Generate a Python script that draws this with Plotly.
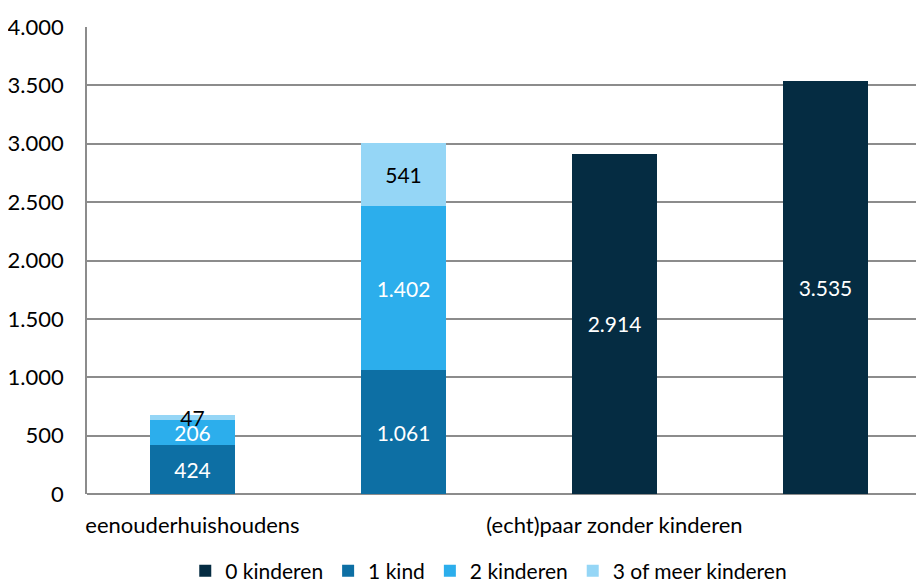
import plotly.graph_objects as go

# ------------data
x_pos = [0, 1, 2, 3]
tick_labels = ["eenouderhuishoudens", "", "(echt)paar zonder kinderen", ""]
kinderen_0 = [None, None, 2914, 3535]
kind_1 = [424, 1061, None, None]
kinderen_2 = [206, 1402, None, None]
kinderen_3plus = [47, 541, None, None]

series = [
    ("0 kinderen", kinderen_0, "#052c42", "white"),
    ("1 kind", kind_1, "#0d6fa4", "white"),
    ("2 kinderen", kinderen_2, "#2caeec", "white"),
    ("3 of meer kinderen", kinderen_3plus, "#95d6f6", "black"),
]

FONT = "Lato"

fig = go.Figure()
for name, vals, col, txtcol in series:
    fig.add_trace(go.Bar(
        x=x_pos, y=vals, name=name,
        marker=dict(color=col, line=dict(width=0)),
        width=0.4,
        texttemplate="%{y:,d}",
        textposition="inside",
        insidetextanchor="middle",
        textangle=0,
        textfont=dict(color=txtcol, size=21, family=FONT),
    ))

# page body has an 8px margin, so the figure is a bit smaller than the window
fig.update_layout(
    barmode="stack",
    width=916, height=580,
    separators=",.",
    plot_bgcolor="white", paper_bgcolor="white",
    margin=dict(l=79, r=0, t=19, b=94, autoexpand=False),
    font=dict(family=FONT, size=22, color="black"),
    uniformtext=dict(minsize=21, mode="show"),
    legend=dict(orientation="h", x=0.48, xanchor="center", y=-0.165, yanchor="middle",
                font=dict(size=21), traceorder="normal", itemwidth=30),
    showlegend=True,
)
fig.update_xaxes(
    range=[-0.5, 3.467],
    tickvals=x_pos, ticktext=tick_labels,
    showgrid=False, showline=False, ticks="",
    tickfont=dict(size=22), automargin=False, ticklabelstandoff=16,
)
fig.update_yaxes(
    range=[0, 4000], dtick=500, tickformat=",d",
    showgrid=True, gridcolor="#8c8c8c", gridwidth=1.5,
    showline=True, linecolor="#8c8c8c", linewidth=1.5,
    zeroline=True, zerolinecolor="#8c8c8c", zerolinewidth=1.5,
    ticks="", ticklabelstandoff=17, automargin=False,
    tickfont=dict(size=22),
)

fig.write_html("out.html")
